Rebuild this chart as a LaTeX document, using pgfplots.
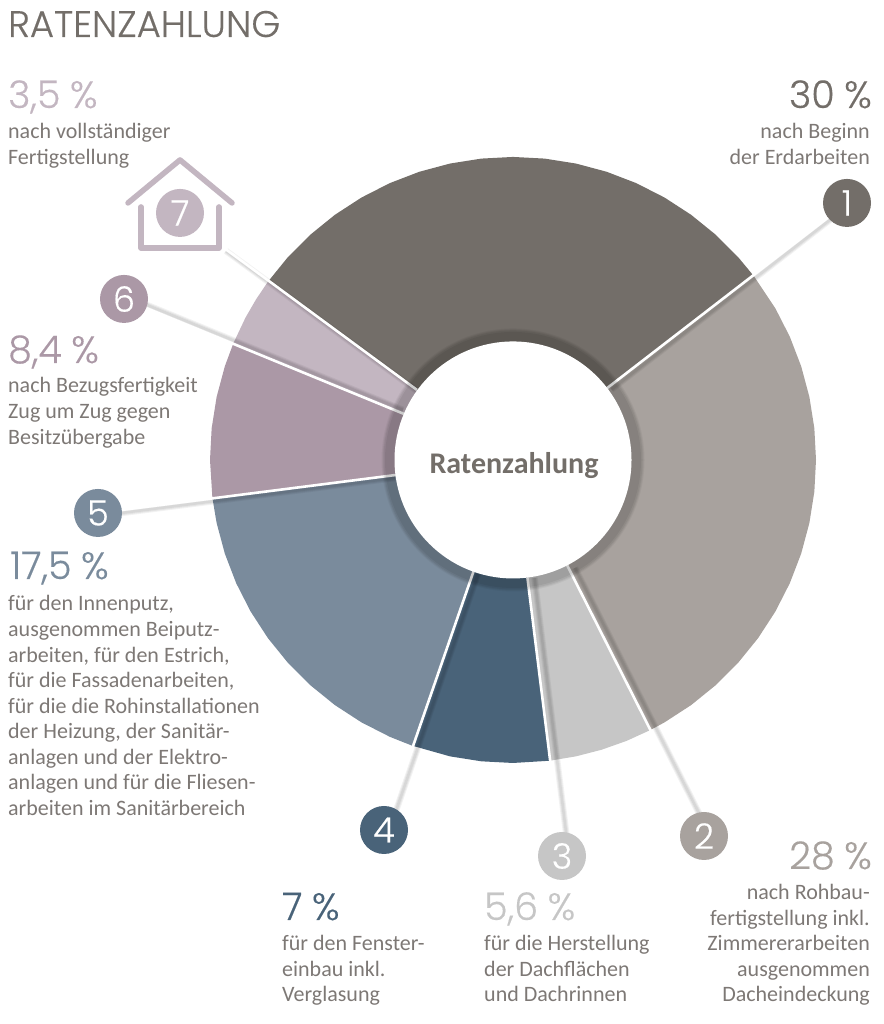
\documentclass[border=0pt]{standalone}
\usepackage{pgfplots}
\pgfplotsset{compat=1.18}
\usepackage{fontspec}
\setmainfont{Carlito}
\newfontfamily\geo[FakeBold=0.35]{Poppins Light}
\definecolor{c1}{HTML}{736E69}
\definecolor{c2}{HTML}{A8A29E}
\definecolor{c3}{HTML}{C6C6C6}
\definecolor{c4}{HTML}{496379}
\definecolor{c5}{HTML}{7A8B9C}
\definecolor{c6}{HTML}{AB98A6}
\definecolor{c7}{HTML}{C3B6C1}
\definecolor{txt}{HTML}{7D7875}
\newcommand{\body}{\fontsize{22}{26}\selectfont\color{txt}}
\newcommand{\BL}[3]{\node[anchor=base west,inner sep=0pt] at (#1,{1024-#2}) {\body #3};}
\newcommand{\BR}[3]{\node[anchor=base east,inner sep=0pt] at (#1,{1024-#2}) {\body #3};}
\newcommand{\PL}[4]{\node[anchor=base west,inner sep=0pt,text=#4] at (#1,{1024-#2-1}) {\geo\fontsize{38}{38}\selectfont #3\hspace{.25em}\%};}
\newcommand{\PR}[4]{\node[anchor=base east,inner sep=0pt,text=#4] at (#1+2,{1024-#2-1}) {\geo\fontsize{38}{38}\selectfont #3\hspace{.25em}\%};}
\newcommand{\NUM}[3]{\node[inner sep=0pt,text=white] at (#1,{1024-#2}) {\geo\fontsize{35}{35}\selectfont #3};}
\newcommand{\shadowline}[1]{%
  \addplot[black,opacity=.05,line width=6.5pt] coordinates {#1};
  \addplot[black,opacity=.06,line width=4.5pt] coordinates {#1};
  \addplot[black,opacity=.06,line width=2.5pt] coordinates {#1};}
\newcommand{\ringmark}[2]{\addplot[only marks,mark=*,mark size=#1,mark options={draw opacity=0,fill=black,fill opacity=#2}] coordinates {(0,0)};}
\newcommand{\bubble}[3]{\addplot[only marks,mark=*,mark size=24,mark options={draw opacity=0,fill=#1}] coordinates {(#2,#3)};}
\begin{document}
\begin{tikzpicture}[x=1pt,y=1pt]
\useasboundingbox (0,0) rectangle (883,1024);
\begin{axis}[at={(0,0)},anchor=south west,scale only axis,width=883pt,height=1024pt,
  xmin=-513,xmax=370,ymin=-564,ymax=460,hide axis,clip=false]
% slices: polar coordinates (angle in degrees, radius in px) round the centre
\addplot[data cs=polar,fill=c1,draw=none] coordinates {(144,0)(144,303)(138,303)(132,303)(126,303)(120,303)(114,303)(108,303)(102,303)(96,303)(90,303)(84,303)(78,303)(72,303)(66,303)(60,303)(54,303)(48,303)(42,303)(37.3,303)};
\addplot[data cs=polar,fill=c2,draw=none] coordinates {(37.3,0)(37.3,303)(30,303)(24,303)(18,303)(12,303)(6,303)(0,303)(-6,303)(-12,303)(-18,303)(-24,303)(-30,303)(-36,303)(-42,303)(-48,303)(-54,303)(-60,303)(-63,303)};
\addplot[data cs=polar,fill=c3,draw=none] coordinates {(-63,0)(-63,303)(-68,303)(-73,303)(-78,303)(-83,303)};
\addplot[data cs=polar,fill=c4,draw=none] coordinates {(-83,0)(-83,303)(-90,303)(-96,303)(-102,303)(-109.5,303)};
\addplot[data cs=polar,fill=c5,draw=none] coordinates {(250.5,0)(250.5,303)(246,303)(240,303)(234,303)(228,303)(222,303)(216,303)(210,303)(204,303)(198,303)(192,303)(187.2,303)};
\addplot[data cs=polar,fill=c6,draw=none] coordinates {(187.2,0)(187.2,303)(180,303)(174,303)(168,303)(162,303)(157.3,303)};
\addplot[data cs=polar,fill=c7,draw=none] coordinates {(157.3,0)(157.3,303)(152,303)(148,303)(144,303)};
% shadows of the leader lines
\shadowline{(98.5,70.5)(335.5,254.5)}
\shadowline{(62,-108)(198,-377)}
\shadowline{(21.5,-118)(56,-396)}
\shadowline{(-35,-114)(-124,-371)}
\shadowline{(-118,-18)(-415,-56)}
\shadowline{(-110,50)(-388,164)}
\shadowline{(-96,69)(-287,209)}
% ring
\ringmark{131.5}{.04}
\ringmark{130.5}{.05}
\ringmark{129.5}{.06}
\ringmark{128}{.06}
\addplot[only marks,mark=*,mark size=118.5,mark options={draw opacity=0,fill=white}] coordinates {(0,0)};
% white leader lines
\addplot[white,line width=2.6pt] coordinates {(93,71)(334,257)};
\addplot[white,line width=2.6pt] coordinates {(54,-105)(191,-376)};
\addplot[white,line width=2.6pt] coordinates {(14.4,-117.5)(49,-396)};
\addplot[white,line width=2.6pt] coordinates {(-39.5,-111.5)(-129,-370)};
\addplot[white,line width=2.6pt] coordinates {(-117,-15)(-415,-53)};
\addplot[white,line width=2.6pt] coordinates {(-109,46)(-389,161)};
\addplot[white,line width=2.6pt] coordinates {(-96,70)(-289,212)};
% house
\addplot[c7,line width=5.5pt,line cap=round,line join=round] coordinates {(-385,257)(-333,300)(-281,257)};
\addplot[c7,line width=5.5pt,line cap=round,line join=round] coordinates {(-372,253)(-372,212)(-294,212)(-294,253)};
% numbered bubbles
\bubble{c1}{334}{257}
\bubble{c2}{191}{-376}
\bubble{c3}{49}{-396}
\bubble{c4}{-129}{-370}
\bubble{c5}{-415}{-53}
\bubble{c6}{-389}{161}
\bubble{c7}{-333}{247}
\end{axis}
\NUM{847}{203}{1}
\NUM{704}{836}{2}
\NUM{562}{856}{3}
\NUM{384}{830}{4}
\NUM{98}{513}{5}
\NUM{124}{299}{6}
\NUM{180}{213}{7}
\node[anchor=base west,inner sep=0pt,text=c1] at (8,{1024-37}) {\geo\fontsize{37}{37}\selectfont RATENZAHLUNG};
\node[anchor=base,inner sep=0pt,text=c1] at (514,{1024-474}) {\fontsize{30}{30}\selectfont\bfseries Ratenzahlung};
\PL{8}{107}{3,5}{c7}
\BL{8}{139}{nach vollständiger}
\BL{8}{165}{Fertigstellung}
\PR{870}{107}{30}{c1}
\BR{870}{139}{nach Beginn}
\BR{870}{165}{der Erdarbeiten}
\PL{8}{362}{8,4}{c6}
\BL{8}{393}{nach Bezugsfertigkeit}
\BL{8}{419}{Zug um Zug gegen}
\BL{8}{445}{Besitzübergabe}
\PL{10}{578}{17,5}{c5}
\BL{8}{611}{für den Innenputz,}
\BL{8}{637}{ausgenommen Beiputz-}
\BL{8}{663}{arbeiten, für den Estrich,}
\BL{8}{688}{für die Fassadenarbeiten,}
\BL{8}{714}{für die die Rohinstallationen}
\BL{8}{739}{der Heizung, der Sanitär-}
\BL{8}{765}{anlagen und der Elektro-}
\BL{8}{790}{anlagen und für die Fliesen-}
\BL{8}{816}{arbeiten im Sanitärbereich}
\PL{282}{919}{7}{c4}
\BL{282}{951}{für den Fenster-}
\BL{282}{977}{einbau inkl.}
\BL{282}{1002}{Verglasung}
\PL{484}{919}{5,6}{c3}
\BL{484}{951}{für die Herstellung}
\BL{484}{977}{der Dachflächen}
\BL{484}{1002}{und Dachrinnen}
\PR{870}{868}{28}{c2}
\BR{870}{900}{nach Rohbau-}
\BR{870}{926}{fertigstellung inkl.}
\BR{870}{951}{Zimmererarbeiten}
\BR{870}{977}{ausgenommen}
\BR{870}{1002}{Dacheindeckung}
\end{tikzpicture}
\end{document}
